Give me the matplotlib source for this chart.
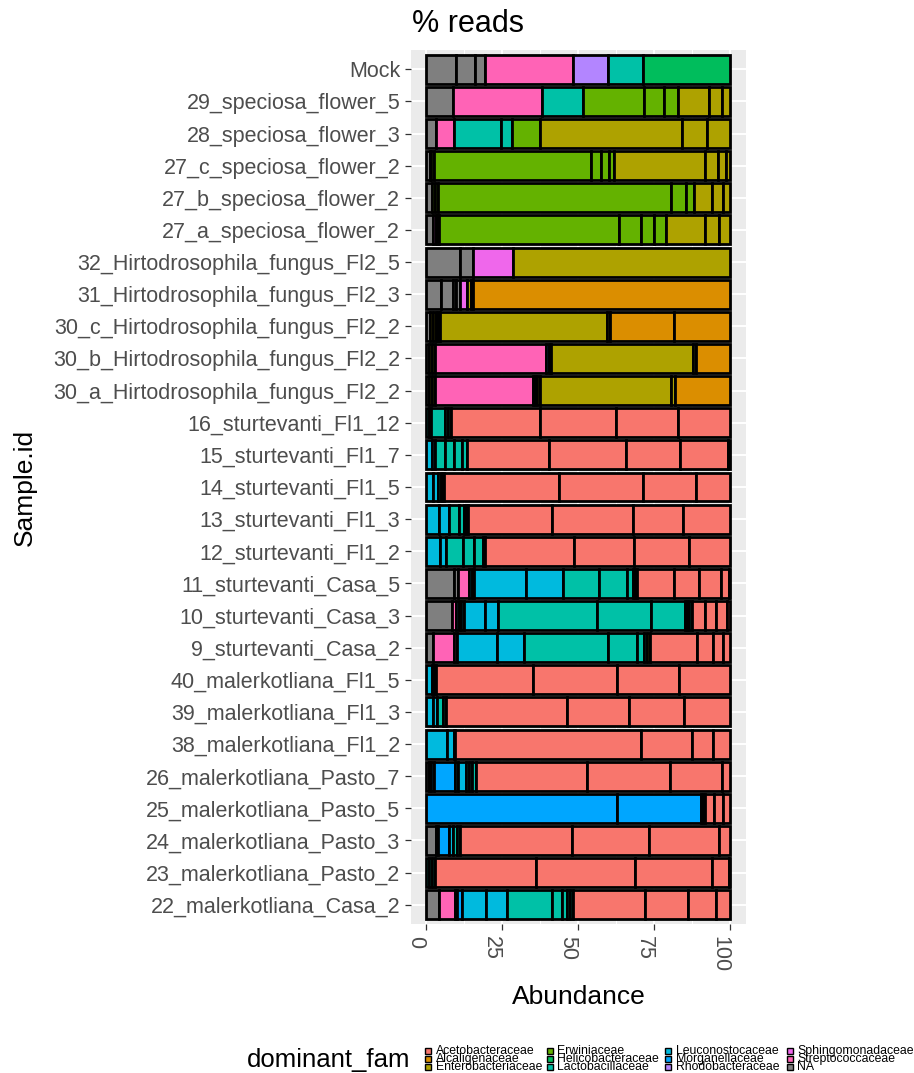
import numpy as np
import matplotlib
matplotlib.use("Agg")
import matplotlib.pyplot as plt
from matplotlib.patches import Rectangle

plt.rcParams['font.family'] = ['Liberation Sans', 'DejaVu Sans']

# families (legend order) and ggplot hue colours
families = ['Ace', 'Alc', 'Ent', 'Erw', 'Hel', 'Lac', 'Leu', 'Mor', 'Rho', 'Sph', 'Str', 'NA']
family_names = ['Acetobacteraceae', 'Alcaligenaceae', 'Enterobacteriaceae',
                'Erwiniaceae', 'Helicobacteraceae', 'Lactobacillaceae',
                'Leuconostocaceae', 'Morganellaceae', 'Rhodobacteraceae',
                'Sphingomonadaceae', 'Streptococcaceae', 'NA']
family_colors = ['#F8766D', '#DB8E00', '#AEA200', '#64B200', '#00BD5C', '#00C1A7',
                 '#00BADE', '#00A6FF', '#B385FF', '#EF67EB', '#FF63B6', '#7F7F7F']

# samples, top to bottom
samples = ['Mock', '29_speciosa_flower_5', '28_speciosa_flower_3',
           '27_c_speciosa_flower_2', '27_b_speciosa_flower_2', '27_a_speciosa_flower_2',
           '32_Hirtodrosophila_fungus_Fl2_5', '31_Hirtodrosophila_fungus_Fl2_3',
           '30_c_Hirtodrosophila_fungus_Fl2_2', '30_b_Hirtodrosophila_fungus_Fl2_2',
           '30_a_Hirtodrosophila_fungus_Fl2_2', '16_sturtevanti_Fl1_12',
           '15_sturtevanti_Fl1_7', '14_sturtevanti_Fl1_5', '13_sturtevanti_Fl1_3',
           '12_sturtevanti_Fl1_2', '11_sturtevanti_Casa_5', '10_sturtevanti_Casa_3',
           '9_sturtevanti_Casa_2', '40_malerkotliana_Fl1_5', '39_malerkotliana_Fl1_3',
           '38_malerkotliana_Fl1_2', '26_malerkotliana_Pasto_7', '25_malerkotliana_Pasto_5',
           '24_malerkotliana_Pasto_3', '23_malerkotliana_Pasto_2', '22_malerkotliana_Casa_2']

# family of each stacked segment, per sample
seg_fam = [
    ['NA', 'NA', 'NA', 'Str', 'Rho', 'Lac', 'Hel'],
    ['NA', 'Str', 'Lac', 'Erw', 'Erw', 'Erw', 'Ent', 'Ent', 'Ent'],
    ['NA', 'Str', 'Lac', 'Lac', 'Erw', 'Ent', 'Ent', 'Ent'],
    ['NA', 'NA', 'Erw', 'Erw', 'Erw', 'Erw', 'Erw', 'Ent', 'Ent', 'Ent', 'Ent'],
    ['NA', 'Erw', 'Erw', 'Erw', 'Erw', 'Erw', 'Ent', 'Ent', 'Ent'],
    ['NA', 'Sph', 'Erw', 'Erw', 'Erw', 'Erw', 'Erw', 'Erw', 'Ent', 'Ent', 'Ent'],
    ['NA', 'NA', 'Sph', 'Ent'],
    ['NA', 'NA', 'NA', 'NA', 'Sph', 'Ent', 'Ent', 'Alc'],
    ['NA', 'Ent', 'Ent', 'Mor', 'Ent', 'Ent', 'Ent', 'Alc', 'Alc'],
    ['NA', 'Ent', 'Ent', 'Str', 'Mor', 'Ent', 'Ent', 'Ent', 'Alc'],
    ['NA', 'Ent', 'Ent', 'Str', 'Ent', 'Mor', 'Ent', 'Ent', 'Ent', 'Alc'],
    ['Lac', 'Lac', 'Lac', 'Lac', 'Lac', 'Ace', 'Ace', 'Ace', 'Ace'],
    ['Leu', 'Leu', 'Lac', 'Lac', 'Lac', 'Lac', 'Ace', 'Ace', 'Ace', 'Ace', 'Ace'],
    ['Leu', 'Leu', 'Lac', 'Lac', 'Lac', 'Ace', 'Ace', 'Ace', 'Ace'],
    ['Leu', 'Leu', 'Lac', 'Lac', 'Lac', 'Lac', 'Ace', 'Ace', 'Ace', 'Ace'],
    ['Leu', 'Leu', 'Lac', 'Lac', 'Lac', 'Lac', 'Ace', 'Ace', 'Ace', 'Ace'],
    ['NA', 'NA', 'Str', 'Leu', 'Leu', 'Leu', 'Leu', 'Lac', 'Lac', 'Lac', 'Lac', 'Lac',
     'Ace', 'Ace', 'Ace', 'Ace', 'Ace'],
    ['NA', 'Str', 'Leu', 'Leu', 'Leu', 'Leu', 'Leu', 'Lac', 'Lac', 'Lac', 'Lac', 'Lac',
     'Lac', 'Ace', 'Ace', 'Ace', 'Ace'],
    ['NA', 'Str', 'Str', 'Leu', 'Leu', 'Lac', 'Lac', 'Lac', 'Lac', 'Ent',
     'Ace', 'Ace', 'Ace', 'Ace'],
    ['Leu', 'Leu', 'Leu', 'Ace', 'Ace', 'Ace', 'Ace'],
    ['Leu', 'Leu', 'Lac', 'Lac', 'Ace', 'Ace', 'Ace', 'Ace'],
    ['Leu', 'Leu', 'Leu', 'Ace', 'Ace', 'Ace', 'Ace'],
    ['NA', 'NA', 'Mor', 'Mor', 'Leu', 'Leu', 'Lac', 'Lac', 'Lac', 'Ace', 'Ace', 'Ace', 'Ace'],
    ['Mor', 'Mor', 'Ace', 'Ace', 'Ace', 'Ace', 'Ace'],
    ['NA', 'Mor', 'Mor', 'Leu', 'Lac', 'Lac', 'Ace', 'Ace', 'Ace', 'Ace'],
    ['Lac', 'Lac', 'Lac', 'Ace', 'Ace', 'Ace', 'Ace', 'Ace'],
    ['NA', 'Str', 'Str', 'Mor', 'Leu', 'Leu', 'Lac', 'Lac', 'Lac', 'Lac', 'Lac',
     'Ace', 'Ace', 'Ace', 'Ace'],
]

# abundance (%) of each segment, same layout as seg_fam
seg_val = [
    [9.7, 6.3, 3.3, 28.8, 11.5, 11.5, 28.9],
    [8.8, 29.3, 13.5, 20.1, 6.6, 4.3, 10.2, 4.4, 2.8],
    [3.1, 6.0, 15.6, 3.5, 9.1, 46.9, 8.0, 7.8],
    [1.1, 0.6, 0.7, 51.6, 3.4, 2.6, 1.8, 29.7, 4.4, 2.6, 1.5],
    [2.0, 0.9, 1.0, 76.6, 4.9, 2.5, 6.0, 3.5, 2.6],
    [2.2, 0.9, 0.5, 0.6, 59.3, 7.1, 4.1, 4.1, 12.7, 4.6, 3.9],
    [11.0, 4.4, 13.2, 71.4],
    [4.7, 4.1, 1.1, 1.1, 2.5, 1.1, 0.8, 84.6],
    [1.1, 1.1, 1.1, 0.5, 0.8, 54.7, 1.1, 21.1, 18.5],
    [0.9, 1.0, 0.9, 36.6, 0.8, 0.8, 46.7, 0.9, 11.4],
    [0.9, 1.0, 1.1, 32.2, 0.5, 0.8, 0.9, 43.1, 1.1, 18.4],
    [0.8, 0.8, 4.7, 1.0, 0.9, 29.3, 24.8, 20.5, 17.2],
    [2.0, 0.8, 3.3, 3.1, 2.7, 1.6, 26.9, 25.1, 18.0, 15.7, 0.8],
    [2.2, 1.6, 0.9, 0.6, 0.7, 37.7, 27.5, 17.5, 11.3],
    [4.2, 3.3, 3.2, 1.8, 0.6, 0.7, 27.7, 26.4, 16.6, 15.5],
    [4.6, 1.8, 5.7, 3.5, 2.9, 0.8, 29.3, 19.6, 18.1, 13.7],
    [9.1, 1.3, 3.8, 0.7, 0.7, 17.3, 12.1, 11.9, 9.0, 1.9, 0.8, 0.8, 11.9, 8.2, 7.4, 2.5, 0.6],
    [8.6, 1.1, 1.1, 0.7, 0.8, 7.1, 4.2, 32.6, 17.6, 11.1, 0.8, 0.8, 0.8, 4.2, 3.8, 3.4, 1.3],
    [2.2, 6.9, 1.0, 13.0, 9.1, 27.4, 9.7, 2.4, 0.9, 0.9, 15.6, 5.2, 3.3, 2.4],
    [1.9, 0.7, 0.7, 31.9, 27.5, 20.3, 17.0],
    [2.2, 1.3, 2.0, 0.9, 39.8, 20.3, 18.1, 15.4],
    [6.8, 2.2, 0.5, 61.1, 16.7, 7.1, 5.6],
    [0.9, 0.7, 0.8, 7.1, 0.8, 2.8, 1.1, 1.0, 1.0, 36.5, 27.5, 17.0, 2.8],
    [62.6, 27.8, 0.5, 0.6, 3.2, 2.7, 2.6],
    [3.3, 0.5, 3.7, 1.3, 1.3, 0.9, 36.8, 25.3, 23.1, 3.8],
    [0.9, 1.1, 0.8, 33.2, 32.7, 25.3, 5.5, 0.5],
    [4.2, 5.2, 0.8, 1.4, 8.0, 7.1, 14.7, 3.1, 1.9, 0.9, 0.9, 23.6, 14.2, 9.3, 4.7],
]

x_ticks = [0, 25, 50, 75, 100]

color_of = dict(zip(families, family_colors))
W, H = 914, 1073

fig = plt.figure(figsize=(9.14, 10.73), dpi=100)
ax = fig.add_axes([411 / W, 1 - 924 / H, (745.7 - 411) / W, (924 - 50) / H])
ax.set_facecolor('#EBEBEB')

for i, (fams, vals) in enumerate(zip(seg_fam, seg_val)):
    vals = np.array(vals)
    lefts = np.concatenate([[0], np.cumsum(vals)[:-1]])
    ax.barh([i] * len(vals), vals, left=lefts, height=0.9,
            color=[color_of[f] for f in fams], edgecolor='black', linewidth=2.0, zorder=3)

ax.set_xlim(-5, 105)
ax.set_ylim(len(samples) - 0.4, -0.6)
ax.set_yticks(range(len(samples)))
ax.set_yticklabels(samples)
ax.set_xticks(x_ticks)
ax.set_xticklabels([str(t) for t in x_ticks], rotation=-90, ha='right', va='top')
ax.set_xticks([12.5, 37.5, 62.5, 87.5], minor=True)

ax.grid(True, which='major', color='white', linewidth=1.4, zorder=0)
ax.grid(True, which='minor', axis='x', color='white', linewidth=0.7, zorder=0)
ax.set_axisbelow(True)
for s in ax.spines.values():
    s.set_visible(False)

ax.tick_params(axis='both', which='major', length=4.3, width=0.9, color='#333333',
               labelcolor='#4D4D4D', labelsize=15.5, pad=3.5)
ax.tick_params(axis='x', which='major', pad=4.5)
ax.tick_params(axis='both', which='minor', length=0)

ax.set_xlabel('Abundance', fontsize=19, va='center')
ax.xaxis.set_label_coords(0.5, (924 - 997) / 874)
ax.set_ylabel('Sample.id', fontsize=19, va='center')
ax.yaxis.set_label_coords((25 - 411) / 334.7, 0.5)
fig.text(412 / W, 1 - 24 / H, '% reads', fontsize=22, ha='left', va='center')

# legend at the bottom, drawn by hand in figure pixels
fig.text(247 / W, 1 - 1060 / H, 'dominant_fam', fontsize=18.5, ha='left', va='center')
col_x = [425, 546.5, 665, 786.5]
row_y = [1051, 1059, 1067]
for k, (name, col) in enumerate(zip(family_names, family_colors)):
    cx = col_x[k // 3]
    cy = row_y[k % 3]
    fig.patches.append(Rectangle((cx / W, 1 - (cy + 3) / H), 6 / W, 6 / H,
                                 transform=fig.transFigure, facecolor=col,
                                 edgecolor='black', linewidth=1.0))
    fig.text((cx + 11) / W, 1 - cy / H, name, fontsize=8.8, ha='left', va='center')

fig.savefig('out.png', dpi=100)
